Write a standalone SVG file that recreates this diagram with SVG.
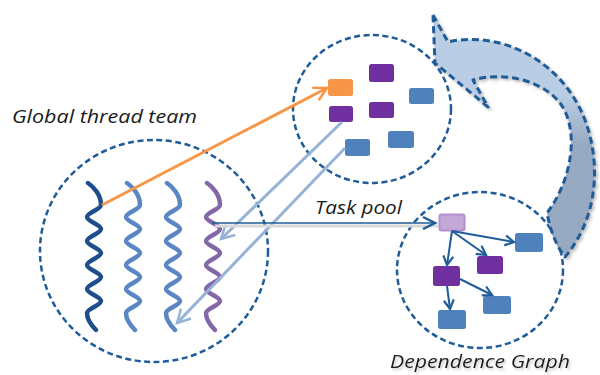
<svg xmlns="http://www.w3.org/2000/svg" width="600" height="375" viewBox="0 0 600 375">
<style>
.ring{fill:none;stroke:#1F5C99;stroke-width:2.5;stroke-dasharray:6 3.5}
.lbl{font-family:"Open Sans","Liberation Sans",sans-serif;font-style:italic;font-size:18px;fill:#1a1a1a}
.thread{fill:none;stroke-width:4.5;stroke-linecap:round}
.task{stroke-width:0}
.purple{fill:#7030A0}
.blue{fill:#4F81BD}
.orange{fill:#F79646}
.dep{fill:none;stroke:#1F5C99;stroke-width:2;marker-end:url(#mDep)}
.lb{fill:none;stroke:#95B3D7;stroke-width:3;marker-end:url(#mLb)}
</style>
<defs>
<path id="wave" d="M -6 183 C 0 187, 7 195, 7 205 C 7 209.4, -7 212.6, -7 217 S 7 224.6, 7 229 S -7 236.6, -7 241 S 7 248.6, 7 253 S -7 260.6, -7 265 S 7 272.6, 7 277 S -7 284.6, -7 289 S 7 296.6, 7 301 S -7 308.6, -7 313 C -7 320, -2 326, 2 330"/>
<linearGradient id="gArrow" gradientUnits="userSpaceOnUse" x1="0" y1="95" x2="0" y2="145">
<stop offset="0" stop-color="#B9CDE5"/>
<stop offset="1" stop-color="#98AAC2"/>
</linearGradient>
<filter id="shadow" x="-10%" y="-10%" width="130%" height="130%">
<feDropShadow dx="2" dy="2" stdDeviation="1.5" flood-color="#808080" flood-opacity="0.5"/>
</filter>
<filter id="tshadow" x="-5%" y="-20%" width="110%" height="150%">
<feDropShadow dx="1.5" dy="2" stdDeviation="1" flood-color="#909090" flood-opacity="0.5"/>
</filter>
<marker id="mOrange" markerUnits="userSpaceOnUse" viewBox="-16 -10 20 20" markerWidth="20" markerHeight="20" refX="0" refY="0" orient="auto" overflow="visible">
<path d="M -13 -7 L 0 0 L -13 7" fill="none" stroke="#F79646" stroke-width="2.5"/>
</marker>
<marker id="mLb" markerUnits="userSpaceOnUse" viewBox="-16 -10 20 20" markerWidth="20" markerHeight="20" refX="0" refY="0" orient="auto" overflow="visible">
<path d="M -13 -7 L 0 0 L -13 7" fill="none" stroke="#95B3D7" stroke-width="2.5"/>
</marker>
<marker id="mDark" markerUnits="userSpaceOnUse" viewBox="-16 -10 20 20" markerWidth="20" markerHeight="20" refX="0" refY="0" orient="auto" overflow="visible">
<path d="M -12 -6 L 0 0 L -12 6" fill="none" stroke="#1F5C99" stroke-width="2.5"/>
</marker>
<marker id="mDep" markerUnits="userSpaceOnUse" viewBox="-16 -10 20 20" markerWidth="20" markerHeight="20" refX="0" refY="0" orient="auto" overflow="visible">
<path d="M -9 -5 L 0 0 L -9 5" fill="none" stroke="#1F5C99" stroke-width="2.2"/>
</marker>
</defs>
<rect width="600" height="375" fill="#ffffff"/>

<g id="thread-team">
<ellipse class="ring" cx="154" cy="251" rx="114" ry="111"/>
<use href="#wave" class="thread" stroke="#1F4E8C" transform="translate(94,0)"/>
<use href="#wave" class="thread" stroke="#5A86C4" transform="translate(133,0)"/>
<use href="#wave" class="thread" stroke="#5A86C4" transform="translate(173,0)"/>
<use href="#wave" class="thread" stroke="#8467A8" transform="translate(213,0)"/>
<text class="lbl" x="12" y="123" textLength="185" lengthAdjust="spacingAndGlyphs">Global thread team</text>
</g>

<g id="task-pool">
<ellipse class="ring" cx="372" cy="109" rx="79" ry="74"/>
<rect class="task orange" x="328" y="79" width="25" height="17" rx="2.5"/>
<rect class="task purple" x="369" y="64" width="25" height="18" rx="2.5"/>
<rect class="task blue" x="409" y="88" width="25" height="16" rx="2.5"/>
<rect class="task purple" x="329" y="106" width="24" height="16" rx="2.5"/>
<rect class="task purple" x="369" y="102" width="25" height="16" rx="2.5"/>
<rect class="task blue" x="388" y="131" width="26" height="17" rx="2.5"/>
<rect class="task blue" x="345" y="139" width="25" height="17" rx="2.5"/>
<text class="lbl" x="315" y="214" textLength="87" lengthAdjust="spacingAndGlyphs">Task pool</text>
</g>

<g id="dependence-graph">
<ellipse class="ring" cx="480" cy="270" rx="83" ry="78"/>
<rect x="439.5" y="214.5" width="25" height="16" rx="2" fill="#C5A8DA" stroke="#B18FCF" stroke-width="2"/>
<rect class="task blue" x="515" y="233" width="28" height="19" rx="2.5"/>
<rect class="task purple" x="477" y="256" width="26" height="18" rx="2.5"/>
<rect class="task purple" x="433" y="266" width="27" height="20" rx="2.5"/>
<rect class="task blue" x="483" y="296" width="28" height="18" rx="2.5"/>
<rect class="task blue" x="438" y="310" width="28" height="19" rx="2.5"/>
<text class="lbl" x="390" y="368" filter="url(#tshadow)" textLength="180" lengthAdjust="spacingAndGlyphs">Dependence Graph</text>
</g>

<g id="feedback-arrow" filter="url(#shadow)">
<path d="M 433 15 L 448 42 C 500 30, 562 60, 585 120 C 600 160, 600 215, 565 257 Q 552 240, 547 213 C 572 180, 580 130, 560 103 C 540 78, 500 72, 473 80 L 488 107 L 435 63 Z" fill="url(#gArrow)" stroke="#1F5C99" stroke-width="3" stroke-dasharray="7 4" stroke-linejoin="round"/>
</g>

<g id="connectors">
<line x1="102" y1="205" x2="327" y2="88" stroke="#F79646" stroke-width="3" marker-end="url(#mOrange)"/>
<line class="lb" x1="342" y1="122" x2="221" y2="239"/>
<line class="lb" x1="345" y1="148" x2="177" y2="323"/>
<line x1="215" y1="226" x2="438" y2="226" stroke="#d9d9d9" stroke-width="3"/>
<line x1="212" y1="223" x2="435" y2="223" stroke="#1F5C99" stroke-width="1.5" marker-end="url(#mDark)"/>
<line class="dep" x1="452" y1="231" x2="514" y2="242"/>
<line class="dep" x1="452" y1="231" x2="486" y2="255"/>
<line class="dep" x1="452" y1="231" x2="447" y2="265"/>
<line class="dep" x1="460" y1="279" x2="492" y2="295"/>
<line class="dep" x1="447" y1="286" x2="450" y2="309"/>
</g>
</svg>
